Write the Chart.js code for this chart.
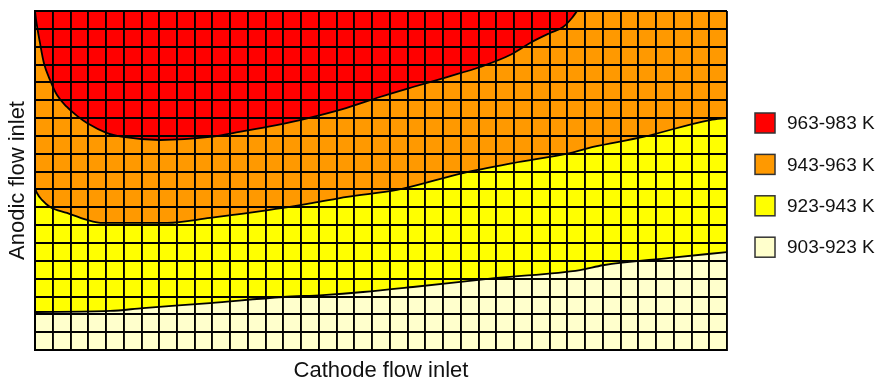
<!DOCTYPE html>
<html><head><meta charset="utf-8">
<script src="https://cdn.jsdelivr.net/npm/chart.js@4"></script>
<style>html,body{margin:0;padding:0;background:#fff}#wrap{width:888px;height:380px;position:relative}</style>
</head><body><div id="wrap"><canvas id="c"></canvas></div>
<script>
// ---- data (grid units: 39 columns x 19 rows) ----
const xTitle = 'Cathode flow inlet';
const yTitle = 'Anodic flow inlet';
const gridColumns = 39;
const gridRows = 19;
const bandLabels = ['903-923 K', '923-943 K', '943-963 K', '963-983 K'];

// boundary 963 K (red / orange)
const redBoundaryX = [0, 0.06, 0.28, 0.5, 0.85, 1.24, 1.8, 2.37, 2.93, 4.06, 4.96, 7.05, 9.86, 11.16, 13.08, 14.94, 17.53, 19.44, 21.3, 23.22, 25.08, 26.77, 27.9, 29.03, 29.76, 30.26, 30.55];
const redBoundaryY = [19, 18.5, 17.21, 16.09, 15.13, 14.29, 13.62, 13.12, 12.72, 12.16, 11.94, 11.77, 11.94, 12.16, 12.5, 12.89, 13.56, 14.18, 14.74, 15.3, 15.86, 16.53, 17.21, 17.77, 18.1, 18.61, 19];
// boundary 943 K (orange / yellow)
const orangeBoundaryX = [0, 0.11, 0.39, 0.85, 1.8, 2.93, 3.83, 7.44, 9.86, 11.16, 13.98, 15.67, 17.59, 20.4, 24.12, 26.94, 30.15, 31.45, 34.27, 38.04, 39];
const orangeBoundaryY = [9.08, 8.8, 8.41, 8.02, 7.68, 7.29, 7.12, 7.12, 7.4, 7.57, 7.96, 8.24, 8.58, 8.97, 9.92, 10.48, 11.04, 11.38, 11.94, 12.89, 13.0];
// boundary 923 K (yellow / cream)
const yellowBoundaryX = [0, 4.23, 6.09, 9.86, 13.98, 16.23, 18.49, 21.3, 26.04, 30.72, 32.01, 35.79, 39];
const yellowBoundaryY = [2.13, 2.19, 2.35, 2.63, 2.97, 3.08, 3.25, 3.53, 4.04, 4.48, 4.75, 5.16, 5.49];

// ---- styles ----
const bandColors = ['#FFFFCC', '#FFFF00', '#FF9900', '#FF0000'];
const FONT = '"Liberation Sans", Arial, sans-serif';

const pts = (xs, ys) => xs.map((x, i) => ({x: x, y: ys[i]}));

const legendPlugin = {
  id: 'bandLegend',
  afterDraw(chart) {
    const ctx = chart.ctx;
    const left = chart.chartArea.right + 28;
    const y0 = 123, step = 41.4, box = 20;
    ctx.save();
    for (let i = 0; i < bandLabels.length; i++) {
      const idx = bandLabels.length - 1 - i;
      const cy = y0 + i * step;
      ctx.fillStyle = bandColors[idx];
      ctx.fillRect(left, cy - box / 2, box, box);
      ctx.lineWidth = 1.5;
      ctx.strokeStyle = '#333';
      ctx.strokeRect(left, cy - box / 2, box, box);
      ctx.fillStyle = '#111';
      ctx.font = '19px ' + FONT;
      ctx.textBaseline = 'middle';
      ctx.textAlign = 'left';
      ctx.fillText(bandLabels[idx], left + 32, cy + 1);
    }
    ctx.restore();
  }
};

const lineBase = {pointRadius: 0, borderColor: '#000', borderWidth: 1.8, cubicInterpolationMode: 'monotone'};

new Chart(document.getElementById('c'), {
  type: 'line',
  data: {
    datasets: [
      Object.assign({}, lineBase, {label: bandLabels[0], data: pts(yellowBoundaryX, yellowBoundaryY), fill: 'start', backgroundColor: bandColors[0], borderWidth: 0, order: 4}),
      Object.assign({}, lineBase, {label: bandLabels[1], data: pts(yellowBoundaryX, yellowBoundaryY), fill: 'end', backgroundColor: bandColors[1], order: 3}),
      Object.assign({}, lineBase, {label: bandLabels[2], data: pts(orangeBoundaryX, orangeBoundaryY), fill: 'end', backgroundColor: bandColors[2], order: 2}),
      Object.assign({}, lineBase, {label: bandLabels[3], data: pts(redBoundaryX, redBoundaryY), fill: 'end', backgroundColor: bandColors[3], order: 1})
    ]
  },
  options: {
    responsive: true,
    maintainAspectRatio: false,
    animation: false,
    events: [],
    layout: {padding: {top: 11, right: 161, bottom: 0, left: 0}},
    plugins: {legend: {display: false}, tooltip: {enabled: false}},
    scales: {
      x: {
        type: 'linear', min: 0, max: gridColumns,
        ticks: {stepSize: 1, display: false},
        grid: {color: '#000', lineWidth: 1.9, drawTicks: false, z: 1},
        border: {color: '#000', width: 2, z: 2},
        title: {display: true, text: xTitle, color: '#111', font: {family: FONT, size: 22, lineHeight: 0.8}, padding: 0},
        afterFit: s => { s.height = 30; }
      },
      y: {
        type: 'linear', min: 0, max: gridRows,
        ticks: {stepSize: 1, display: false},
        grid: {color: '#000', lineWidth: 1.9, drawTicks: false, z: 1},
        border: {color: '#000', width: 2, z: 2},
        title: {display: true, text: yTitle, color: '#111', font: {family: FONT, size: 22, lineHeight: 1.2}, padding: {top: 4.3, bottom: 0}},
        afterFit: s => { s.width = 35; }
      }
    }
  },
  plugins: [legendPlugin]
});
</script>
</body></html>
